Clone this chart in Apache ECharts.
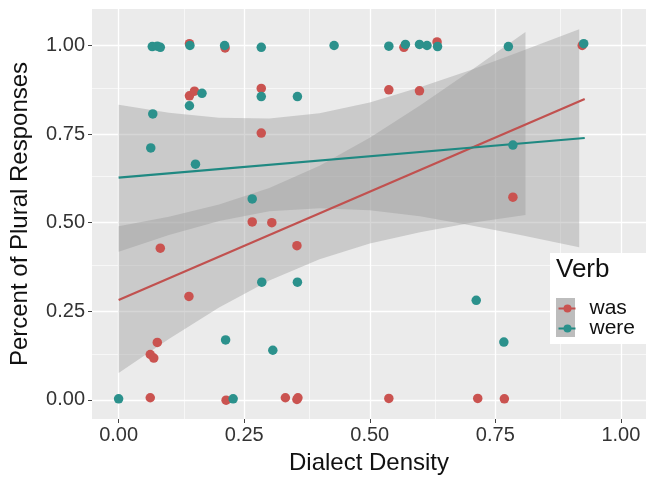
<!DOCTYPE html>
<html>
<head>
<meta charset="utf-8">
<script src="https://cdn.jsdelivr.net/npm/echarts@6/dist/echarts.min.js"></script>
<style>html,body{margin:0;padding:0;background:#fff}#c{width:648px;height:480px}</style>
</head>
<body>
<div id="c"></div>
<script>
// ---- data ----
const verbs = ['was', 'were'];
const xTicks = [0, 0.25, 0.5, 0.75, 1.0];
const yTicks = [0, 0.25, 0.5, 0.75, 1.0];
const xMinor = [0.125, 0.375, 0.625, 0.875];
const yMinor = [0.125, 0.375, 0.625, 0.875];

const wasX = [0.141, 0.212, 0.568, 0.634, 0.923,
  0.141, 0.151, 0.284, 0.284, 0.538, 0.599, 0.785, 0.266, 0.305, 0.083, 0.355, 0.140, 0.077, 0.063, 0.070,
  0.063, 0.214, 0.332, 0.355, 0.357, 0.538, 0.715, 0.768];
const wasY = [1.005, 0.993, 0.995, 1.010, 1.000,
  0.858, 0.871, 0.879, 0.753, 0.875, 0.872, 0.572, 0.502, 0.500, 0.428, 0.435, 0.292, 0.162, 0.128, 0.118,
  0.006, -0.001, 0.006, 0.001, 0.006, 0.004, 0.004, 0.003];

const wereX = [0.067, 0.077, 0.083, 0.142, 0.211, 0.284, 0.429, 0.538, 0.571, 0.599, 0.614, 0.635, 0.776, 0.926,
  0.166, 0.284, 0.356, 0.141, 0.068, 0.064, 0.153, 0.266, 0.785, 0.712, 0.285, 0.356, 0.213, 0.307, 0.767,
  0.000, 0.228];
const wereY = [0.997, 0.998, 0.995, 1.000, 1.000, 0.995, 1.000, 0.998, 1.003, 1.003, 1.000, 0.997, 0.997, 1.005,
  0.865, 0.856, 0.856, 0.830, 0.807, 0.711, 0.665, 0.567, 0.719, 0.281, 0.332, 0.332, 0.169, 0.140, 0.163,
  0.003, 0.003];

// fitted lines (end points)
const wasFitX = [0, 0.928];
const wasFitY = [0.282, 0.849];
const wereFitX = [0, 0.928];
const wereFitY = [0.627, 0.739];

// confidence ribbons (edges)
const wasBandX  = [0, 0.1, 0.2, 0.3, 0.4, 0.5, 0.6, 0.7, 0.81];
const wasBandHi = [0.490, 0.517, 0.551, 0.598, 0.661, 0.740, 0.831, 0.928, 1.038];
const wasBandLo = [0.076, 0.172, 0.261, 0.337, 0.397, 0.441, 0.473, 0.499, 0.522];
const wereBandX  = [0, 0.1, 0.2, 0.3, 0.4, 0.5, 0.6, 0.7, 0.8, 0.917];
const wereBandHi = [0.833, 0.810, 0.796, 0.794, 0.809, 0.839, 0.882, 0.930, 0.983, 1.046];
const wereBandLo = [0.418, 0.465, 0.505, 0.532, 0.541, 0.535, 0.518, 0.493, 0.465, 0.431];

// ---- styles ----
const pointColors = ['#CA5350', '#2B918C'];
const lineColors = ['#C1514F', '#1F8982'];
const ribbonFill = 'rgba(153,153,153,0.4)';
const FONT = 'Liberation Sans, Arial, sans-serif';

const zip = (a, b) => a.map((v, i) => [v, b[i]]);

function ribbon(bx, hi, lo) {
  return {
    type: 'custom', z: 1, silent: true,
    data: [[bx[0], hi[0]]],
    renderItem: function (params, api) {
      const pts = [];
      for (let i = 0; i < bx.length; i++) pts.push(api.coord([bx[i], hi[i]]));
      for (let i = bx.length - 1; i >= 0; i--) pts.push(api.coord([bx[i], lo[i]]));
      return { type: 'polygon', shape: { points: pts }, style: { fill: ribbonFill } };
    }
  };
}

const gridLines = [].concat(
  xTicks.map(v => ({ xAxis: v, lineStyle: { width: 1.3 } })),
  xMinor.map(v => ({ xAxis: v, lineStyle: { width: 0.6 } })),
  yTicks.map(v => ({ yAxis: v, lineStyle: { width: 1.3 } })),
  yMinor.map(v => ({ yAxis: v, lineStyle: { width: 0.6 } }))
);

const chart = echarts.init(document.getElementById('c'), null, { renderer: 'canvas' });
const option = {
  animation: false,
  backgroundColor: '#ffffff',
  textStyle: { fontFamily: FONT },
  grid: { left: 92, right: 2, top: 9, bottom: 57, show: true, backgroundColor: '#EBEBEB', borderWidth: 0 },
  xAxis: {
    type: 'value', min: -0.053, max: 1.05,
    name: 'Dialect Density', nameLocation: 'middle', nameGap: 32,
    nameTextStyle: { fontSize: 24, color: '#111', fontFamily: FONT },
    axisLine: { show: false, onZero: false },
    splitLine: { show: false },
    axisTick: { show: true, customValues: xTicks, length: 4, lineStyle: { color: '#444', width: 1 } },
    axisLabel: { customValues: xTicks, formatter: v => v.toFixed(2), fontSize: 20, color: '#333', margin: 6, fontFamily: FONT }
  },
  yAxis: {
    type: 'value', min: -0.054, max: 1.103,
    name: 'Percent of Plural Responses', nameLocation: 'middle', nameGap: 60, nameRotate: 90,
    nameTextStyle: { fontSize: 24, color: '#111', fontFamily: FONT },
    axisLine: { show: false, onZero: false },
    splitLine: { show: false },
    axisTick: { show: true, customValues: yTicks, length: 4, lineStyle: { color: '#444', width: 1 } },
    axisLabel: { customValues: yTicks, formatter: v => v.toFixed(2), fontSize: 20, color: '#333', margin: 7, fontFamily: FONT }
  },
  series: [
    {
      type: 'line', data: [], z: 0, silent: true,
      markLine: { silent: true, symbol: ['none', 'none'], label: { show: false },
        lineStyle: { color: '#ffffff', type: 'solid' }, data: gridLines, z: 0 }
    },
    ribbon(wasBandX, wasBandHi, wasBandLo),
    ribbon(wereBandX, wereBandHi, wereBandLo),
    { type: 'line', name: verbs[0] + ' fit', z: 2, data: zip(wasFitX, wasFitY), showSymbol: false, symbol: 'none',
      lineStyle: { color: lineColors[0], width: 2.2 } },
    { type: 'line', name: verbs[1] + ' fit', z: 2, data: zip(wereFitX, wereFitY), showSymbol: false, symbol: 'none',
      lineStyle: { color: lineColors[1], width: 2.2 } },
    { type: 'scatter', name: verbs[0], z: 3, symbolSize: 9.5, data: zip(wasX, wasY), itemStyle: { color: pointColors[0], opacity: 1 } },
    { type: 'scatter', name: verbs[1], z: 3, symbolSize: 9.5, data: zip(wereX, wereY), itemStyle: { color: pointColors[1], opacity: 1 } }
  ],
  graphic: [
    { type: 'rect', left: 550, top: 253, shape: { width: 98, height: 91 }, style: { fill: '#ffffff' }, z: 10 },
    { type: 'text', left: 556, top: 257, style: { text: 'Verb', font: '26px ' + FONT, fill: '#111' }, z: 11 },
    { type: 'rect', left: 556, top: 298, shape: { width: 19, height: 39 }, style: { fill: '#BDBDBD' }, z: 11 },
  ].concat(verbs.map((v, i) => ({
    type: 'group', left: 556, top: 298 + i * 20, z: 12, children: [
      { type: 'line', shape: { x1: 1, y1: 10, x2: 18, y2: 10 }, style: { stroke: lineColors[i], lineWidth: 2 }, z: 12 },
      { type: 'circle', shape: { cx: 10, cy: 10, r: 4 }, style: { fill: pointColors[i] }, z: 13 },
      { type: 'text', style: { text: v, x: 32, y: 10, font: '21px ' + FONT, fill: '#111', verticalAlign: 'middle' }, z: 13 }
    ]
  })))
};
chart.setOption(option);
</script>
</body>
</html>
